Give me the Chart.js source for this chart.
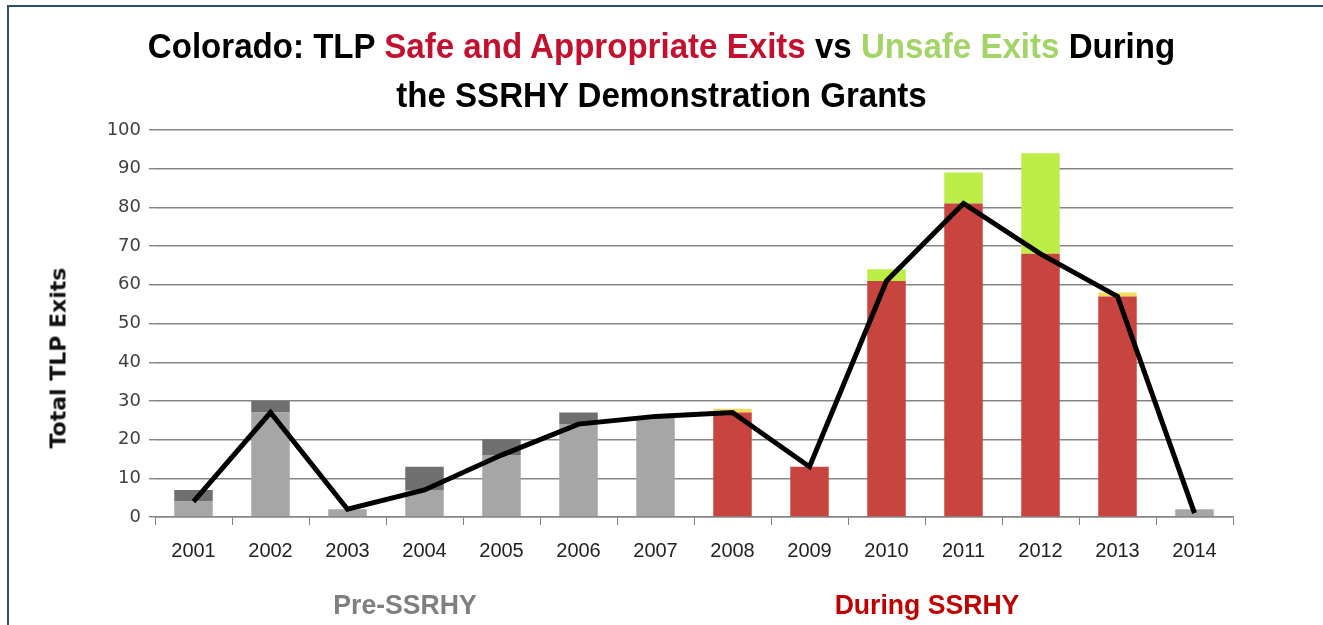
<!DOCTYPE html>
<html>
<head>
<meta charset="utf-8">
<script src="https://cdn.jsdelivr.net/npm/chart.js@4"></script>
<style>
  body { margin: 0; background: #fff; }
  #page { position: relative; width: 1323px; height: 625px; overflow: hidden; background: #fff; }
  #frame { position: absolute; left: 7px; top: 5px; right: -5px; bottom: -5px;
           border-top: 2px solid #2c4d6b; border-left: 2px solid #2c4d6b; }
  #chartCanvas { position: absolute; left: 0; top: 0; }
  .title { position: absolute; left: 0; width: 1323px; text-align: center; white-space: nowrap;
           font-family: "Liberation Sans", sans-serif; font-weight: bold;
           font-size: 35px; color: #000; transform: scaleX(0.945); }
  .red { color: #c3102e; }
  .green { color: #a3d468; }
  #yTitle { position: absolute; left: 58px; top: 358px; transform: translate(-50%, -50%) rotate(-90deg);
            font-family: "DejaVu Sans", sans-serif; font-weight: bold; font-size: 22px; color: #111; white-space: nowrap; }
  .period { position: absolute; top: 605px; transform: translate(-50%, -50%) scaleX(0.95);
            font-family: "Liberation Sans", sans-serif; font-weight: bold; font-size: 28px; white-space: nowrap; }
</style>
</head>
<body>
<div id="page">
  <div id="frame"></div>
  <canvas id="chartCanvas" width="1323" height="625"></canvas>
  <div class="title" style="top: 26px;">Colorado: TLP <span class="red">Safe and Appropriate Exits</span> vs <span class="green">Unsafe Exits</span> During</div>
  <div class="title" style="top: 75px;">the SSRHY Demonstration Grants</div>
  <div id="yTitle">Total TLP Exits</div>
  <div class="period" style="left: 405px; color: #7f7f7f;">Pre-SSRHY</div>
  <div class="period" style="left: 927px; color: #c00000;">During SSRHY</div>
</div>
<script>
// data
const years = ['2001', '2002', '2003', '2004', '2005', '2006', '2007', '2008', '2009', '2010', '2011', '2012', '2013', '2014'];
const graySafeExits   = [4, 27, 2, 7, 16, 24, 26, null, null, null, null, null, null, 2];
const grayUnsafeExits = [3, 3, null, 6, 4, 3, null, null, null, null, null, null, null, null];
const safeExits       = [null, null, null, null, null, null, null, 27, 13, 61, 81, 68, 57, null];
const unsafeExits     = [null, null, null, null, null, null, null, null, null, 3, 8, 26, null, null];
const otherExits      = [null, null, null, null, null, null, null, 1, null, null, null, null, 1, null];
const safeTrend       = [4, 27, 2, 7, 16, 24, 26, 27, 13, 61, 81, 68, 57, 1];

const gridColor = '#858585';

function barSet(label, values, color)
{
  return {
    type: 'bar',
    label: label,
    data: values,
    backgroundColor: color,
    stack: 'exits',
    order: 1,
    barPercentage: 0.5,
    categoryPercentage: 1
  };
}

let chart = new Chart(document.getElementById('chartCanvas'), {
  data: {
    labels: years,
    datasets: [
      barSet('Safe (pre)', graySafeExits, '#a6a6a6'),
      barSet('Unsafe (pre)', grayUnsafeExits, '#6f6f6f'),
      barSet('Safe and Appropriate Exits', safeExits, '#c8443f'),
      barSet('Unsafe Exits', unsafeExits, '#bdee48'),
      barSet('Other', otherExits, '#f2dc5c'),
      {
        type: 'line',
        label: 'Safe trend',
        data: safeTrend,
        borderColor: '#000',
        borderWidth: 5,
        pointRadius: 0,
        tension: 0,
        stack: 'trend',
        order: 0
      }
    ]
  },
  options: {
    responsive: false,
    animation: false,
    devicePixelRatio: 1,
    layout: { padding: { top: 130, right: 90, bottom: 0, left: 0 } },
    plugins: { legend: { display: false }, tooltip: { enabled: false }, title: { display: false } },
    scales: {
      x: {
        stacked: true,
        afterFit: function(scale) { scale.height = 108; },
        border: { display: true, color: gridColor, width: 1.5 },
        grid: { display: true, drawOnChartArea: false, drawTicks: true, tickLength: 8, offset: true, color: gridColor },
        ticks: { color: '#222', padding: 14, font: { family: '"Liberation Sans", sans-serif', size: 20 } }
      },
      y: {
        stacked: true,
        min: 0,
        max: 100,
        afterFit: function(scale) { scale.width = 155; },
        border: { display: false },
        grid: { color: gridColor, lineWidth: 1.4, tickLength: 6, drawTicks: true },
        ticks: { stepSize: 10, color: '#404040', padding: 8, font: { family: '"DejaVu Sans", sans-serif', size: 18 } }
      }
    }
  }
});
</script>
</body>
</html>
